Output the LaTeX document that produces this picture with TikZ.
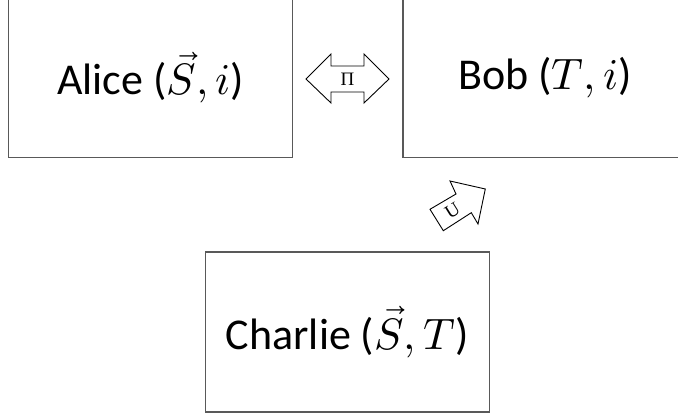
\documentclass[tikz,border=0pt]{standalone}
\usepackage{fontspec}
\usepackage{unicode-math}
\setmainfont{Carlito}
\setmathfont{Latin Modern Math}
\newfontfamily\lblfont{Liberation Serif}
\begin{document}
\begin{tikzpicture}[x=1pt,y=-1pt,
  party/.style={draw=black!65,line width=1.4pt,minimum width=284pt,minimum height=160pt,
    inner sep=0pt,font=\fontsize{44}{52}\selectfont},
  bigarrow/.style={draw=black,line width=0.9pt,line join=miter},
  arrlabel/.style={font=\lblfont\fontsize{19}{22}\selectfont,inner sep=0pt}]
\useasboundingbox (0,0) rectangle (678,414);
\clip (0,0) rectangle (678,414);
\node[party] (alice) at (150.75,77.5) {Alice (\(\vec{S},i\))};
\node[party] (bob) at (545,77.5) {Bob (\(T,i\))};
\node[party] (charlie) at (347.5,332) {Charlie (\(\vec{S},T\))};
% double arrow Pi
\draw[bigarrow] (306,79) -- (331,54) -- (331,66) -- (364,66) -- (364,54) -- (389,79)
  -- (364,103) -- (364,92) -- (331,92) -- (331,103) -- cycle;
\node[arrlabel] (pi) at (347.5,79) {Π};
% single arrow U
\draw[bigarrow] (430,209.3) -- (456,194) -- (450,181) -- (485.3,189) -- (478,224)
  -- (471.3,212.7) -- (443.3,230.7) -- cycle;
\node[arrlabel,rotate=32] (u) at (452.5,211) {U};
\end{tikzpicture}
\end{document}
